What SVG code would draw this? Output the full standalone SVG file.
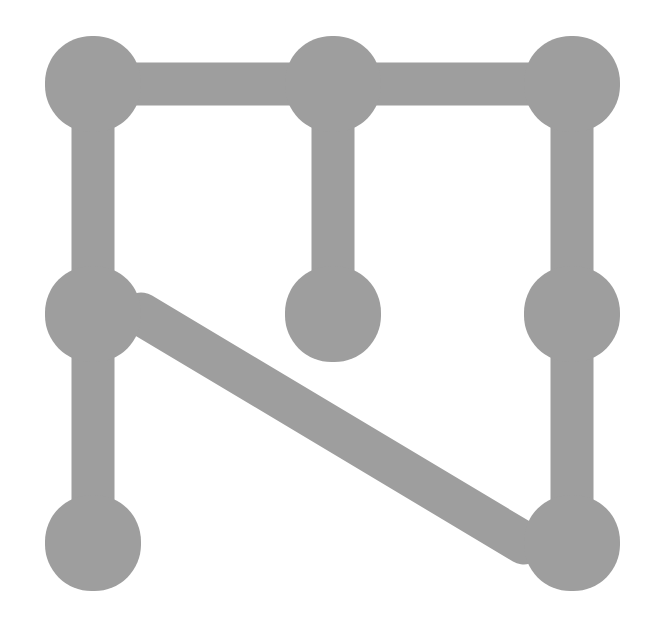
<svg xmlns="http://www.w3.org/2000/svg" width="662" height="642" viewBox="0 0 662 642">
<style>
.e{stroke:#9e9e9e;stroke-width:43;fill:none}
.d{stroke-linecap:round}
.n{fill:#9e9e9e}
</style>
<rect width="662" height="642" fill="#ffffff"/>
<g id="connectors">
<line class="e" x1="93" y1="84" x2="333" y2="84"/>
<line class="e" x1="333" y1="84" x2="572" y2="84"/>
<line class="e" x1="93" y1="84" x2="93" y2="314"/>
<line class="e" x1="93" y1="314" x2="93" y2="543"/>
<line class="e" x1="333" y1="84" x2="333" y2="314"/>
<line class="e" x1="572" y1="84" x2="572" y2="314"/>
<line class="e" x1="572" y1="314" x2="572" y2="543"/>
<line class="e d" x1="141" y1="314" x2="524" y2="543"/>
</g>
<g id="n1"><rect class="n" x="45" y="36" width="96" height="96" rx="46.5"/></g>
<g id="n2"><rect class="n" x="285" y="36" width="96" height="96" rx="46.5"/></g>
<g id="n3"><rect class="n" x="524" y="36" width="96" height="96" rx="46.5"/></g>
<g id="n4"><rect class="n" x="45" y="266" width="96" height="96" rx="46.5"/></g>
<g id="n5"><rect class="n" x="285" y="266" width="96" height="96" rx="46.5"/></g>
<g id="n6"><rect class="n" x="524" y="266" width="96" height="96" rx="46.5"/></g>
<g id="n7"><rect class="n" x="45" y="495" width="96" height="96" rx="46.5"/></g>
<g id="n8"><rect class="n" x="524" y="495" width="96" height="96" rx="46.5"/></g>
</svg>
